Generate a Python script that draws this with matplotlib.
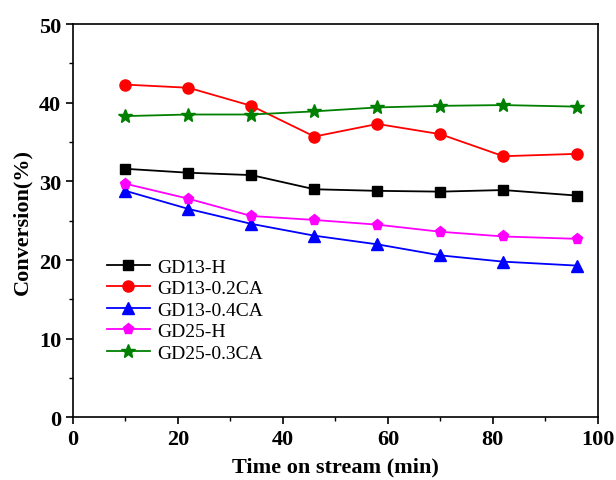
import numpy as np
import matplotlib
matplotlib.use("Agg")
import matplotlib.pyplot as plt
from matplotlib.ticker import MultipleLocator

plt.rcParams['font.family'] = ['Liberation Serif', 'DejaVu Serif']

time = [10, 22, 34, 46, 58, 70, 82, 96]
gd13_h = [31.6, 31.1, 30.8, 29.0, 28.8, 28.7, 28.9, 28.2]
gd13_02ca = [42.3, 41.9, 39.6, 35.7, 37.3, 36.0, 33.2, 33.5]
gd13_04ca = [28.8, 26.5, 24.6, 23.1, 22.0, 20.6, 19.8, 19.3]
gd25_h = [29.7, 27.8, 25.6, 25.1, 24.5, 23.6, 23.0, 22.7]
gd25_03ca = [38.3, 38.5, 38.5, 38.9, 39.4, 39.6, 39.7, 39.5]

labels = ['GD13-H', 'GD13-0.2CA', 'GD13-0.4CA', 'GD25-H', 'GD25-0.3CA']
colors = ['black', 'red', 'blue', 'magenta', 'green']
markers = ['s', 'o', '^', 'p', '*']
sizes = [7, 8, 8, 8, 10]

fig = plt.figure(figsize=(6.16, 4.81), dpi=100)
ax = fig.add_axes([0.1185, 0.13, 0.852, 0.818])

for y, lab, c, m, s in zip([gd13_h, gd13_02ca, gd13_04ca, gd25_h, gd25_03ca], labels, colors, markers, sizes):
    ax.plot(time, y, color=c, marker=m, markersize=s, linewidth=1.3, label=lab)

ax.set_xlim(0, 100)
ax.set_ylim(0, 50)
ax.xaxis.set_major_locator(MultipleLocator(20))
ax.xaxis.set_minor_locator(MultipleLocator(10))
ax.yaxis.set_major_locator(MultipleLocator(10))
ax.yaxis.set_minor_locator(MultipleLocator(5))
ax.tick_params(which='both', direction='out')
ax.tick_params(which='major', length=5, width=1.2, labelsize=16)
ax.tick_params(which='minor', length=3, width=1)
for lab in ax.get_xticklabels() + ax.get_yticklabels():
    lab.set_fontweight('bold')
for sp in ax.spines.values():
    sp.set_linewidth(1.2)

ax.set_xlabel('Time on stream (min)', fontsize=16, fontweight='bold', labelpad=5)
ax.set_ylabel('Conversion(%)', fontsize=16, fontweight='bold', labelpad=5)

ax.legend(loc='upper left', bbox_to_anchor=(0.05, 0.425), frameon=False, fontsize=14,
          handlelength=2.2, handletextpad=0.4, labelspacing=0.2, borderaxespad=0)

fig.savefig('out.png', dpi=100)
